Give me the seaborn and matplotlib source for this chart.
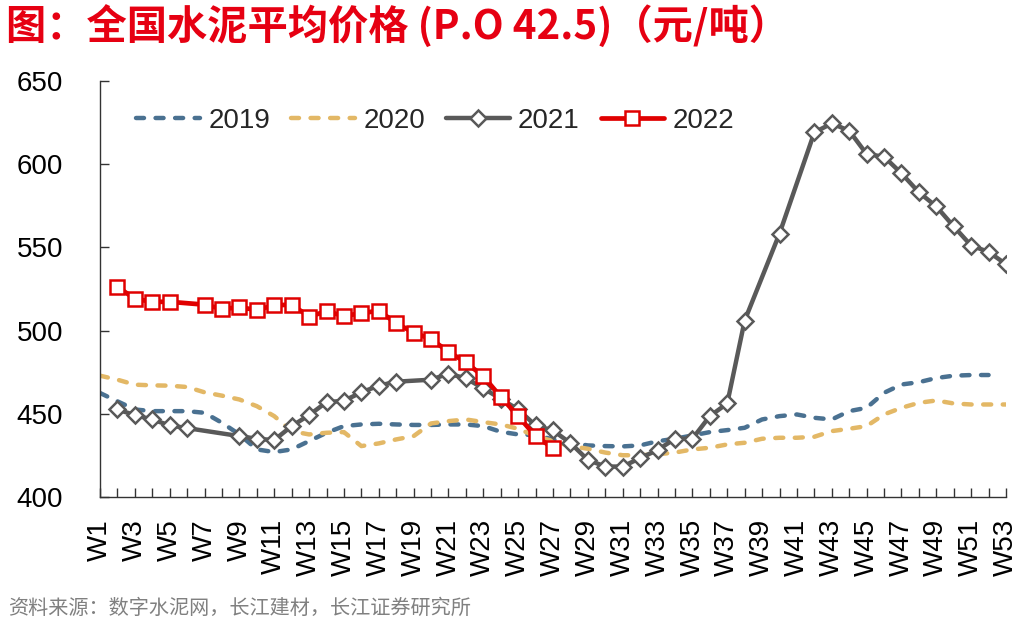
import numpy as np
import pandas as pd
import matplotlib
matplotlib.use("Agg")
import matplotlib.pyplot as plt
import seaborn as sns

# ---------------- data ----------------
weeks = [f"W{i}" for i in range(1, 54)]

s2019 = [462.5, 457.5, 452.6, 451.6, 451.6, 451.6, 450.6, 444.6, 437.6, 428.6,
         427.0, 428.6, 433.6, 438.6, 442.6, 443.6, 444.0, 443.6, 443.3, 443.3,
         443.6, 443.6, 442.6, 439.2, 437.6, 437.2, 434.6, 432.6, 431.0, 430.6,
         430.4, 431.0, 433.5, 435.0, 437.0, 439.0, 440.2, 441.6, 446.6, 448.6,
         449.6, 447.6, 446.6, 451.6, 453.6, 462.6, 467.6, 469.0, 471.5, 472.9,
         473.3, 473.3, None]

s2020 = [472.9, 470.5, 467.5, 467.1, 466.9, 466.1, 462.9, 460.9, 458.6, 454.6,
         448.6, 439.6, 437.6, 438.6, 439.0, 430.6, 432.2, 434.6, 436.6, 444.2,
         445.6, 446.6, 445.0, 443.6, 441.0, 436.6, 433.6, 430.6, 429.0, 426.7,
         425.1, 425.1, 425.7, 426.7, 428.6, 429.6, 431.6, 432.6, 435.0, 435.6,
         435.6, 436.2, 439.6, 441.0, 442.6, 449.6, 453.6, 456.6, 458.0, 456.2,
         455.6, 455.6, 455.6]

s2021 = [None, 452.6, 449.2, 446.6, 443.0, 441.4, None, None, 436.6, 435.0,
         434.2, 442.6, 449.2, 457.0, 457.8, 462.9, 466.9, 469.3, None, 470.5,
         474.1, 471.3, 465.3, 459.0, 452.6, 443.0, 440.0, 432.4, 422.3, 418.3,
         418.3, 423.4, 428.2, 435.0, 435.0, 448.6, 456.2, 506.0, None, 558.3,
         None, 619.1, 624.5, 620.1, 606.1, 604.5, 594.5, 583.1, 574.6, 562.6,
         551.1, 547.3, 539.9]

s2022 = [None, 526.3, 519.1, 517.3, 517.3, None, 515.6, 513.0, 514.0, 512.4,
         515.2, 515.6, 508.4, 511.6, 508.8, 510.4, 512.0, 504.4, 498.8, 494.9,
         487.3, 480.9, 472.5, 460.2, 448.6, 436.6, 429.4] + [None] * 26

y_ticks = [400, 450, 500, 550, 600, 650]

title = "图：全国水泥平均价格 (P.O 42.5)（元/吨）"
source = "资料来源：数字水泥网，长江建材，长江证券研究所"

# ---------------- style ----------------
sns.set_theme(style="ticks")
plt.rcParams["font.family"] = ["Liberation Sans", "Noto Sans CJK SC", "DejaVu Sans"]
plt.rcParams["axes.unicode_minus"] = False

df = pd.DataFrame({"week": np.arange(1, 54),
                   "2019": s2019, "2020": s2020, "2021": s2021, "2022": s2022})

fig = plt.figure(figsize=(10.24, 6.27), dpi=100)
W, H = 1024, 627
ax = fig.add_axes([100 / W, 1 - 497 / H, 906 / W, (497 - 81) / H])

c2019, c2020, c2021, c2022 = "#4a7191", "#e3b866", "#595959", "#e00000"

d = df[["week", "2019"]].dropna()
sns.lineplot(x=d["week"], y=d["2019"], ax=ax, color=c2019, linewidth=3.2,
             label="2019", zorder=2)
ln = ax.lines[-1]
ln.set_dashes([1.8, 2.6]); ln.set_dash_capstyle("round")

d = df[["week", "2020"]].dropna()
sns.lineplot(x=d["week"], y=d["2020"], ax=ax, color=c2020, linewidth=3.2,
             label="2020", zorder=2)
ln = ax.lines[-1]
ln.set_dashes([1.8, 2.6]); ln.set_dash_capstyle("round")

d = df[["week", "2021"]].dropna()
sns.lineplot(x=d["week"], y=d["2021"], ax=ax, color=c2021, linewidth=3.2,
             marker="D", markersize=8.5, markerfacecolor="white",
             markeredgecolor=c2021, markeredgewidth=1.8, label="2021", zorder=3)

d = df[["week", "2022"]].dropna()
sns.lineplot(x=d["week"], y=d["2022"], ax=ax, color=c2022, linewidth=3.4,
             marker="s", markersize=10, markerfacecolor="white",
             markeredgecolor=c2022, markeredgewidth=1.8, label="2022", zorder=4)

ax.set_xlim(1, 53)
ax.set_ylim(400, 650)
ax.set_yticks(y_ticks)
ax.set_yticklabels([str(v) for v in y_ticks])
ax.set_xticks(np.arange(1, 54))
ax.set_xticklabels([w if i % 2 == 0 else "" for i, w in enumerate(weeks)])
ax.set_xlabel("")
ax.set_ylabel("")

for s in ["top", "right"]:
    ax.spines[s].set_visible(False)
for s in ["left", "bottom"]:
    ax.spines[s].set_color("#333333")
    ax.spines[s].set_linewidth(1.0)

ax.tick_params(axis="both", direction="in", length=6.5, width=1.0,
               color="#333333", labelcolor="black")
ax.tick_params(axis="x", labelsize=20, labelrotation=90, pad=16)
ax.tick_params(axis="y", labelsize=20, pad=26.5)
ax.grid(False)

leg = ax.legend(ncol=4, frameon=False, fontsize=20, loc="center left",
                bbox_to_anchor=(136 / W, 1 - 121 / H),
                bbox_transform=fig.transFigure, borderpad=0, borderaxespad=0,
                handlelength=2.3, handletextpad=0.3, columnspacing=0.75,
                numpoints=1)

fig.text(6 / W, 1 - 27 / H, title, fontsize=29, fontweight="bold",
         color="#e60012", va="center", ha="left",
         family=["Noto Sans CJK SC", "DejaVu Sans"])
fig.text(8 / W, 1 - 608 / H, source, fontsize=14.5, color="#808080",
         va="center", ha="left", family=["Noto Sans CJK SC", "DejaVu Sans"])

fig.savefig("out.png", dpi=100)
